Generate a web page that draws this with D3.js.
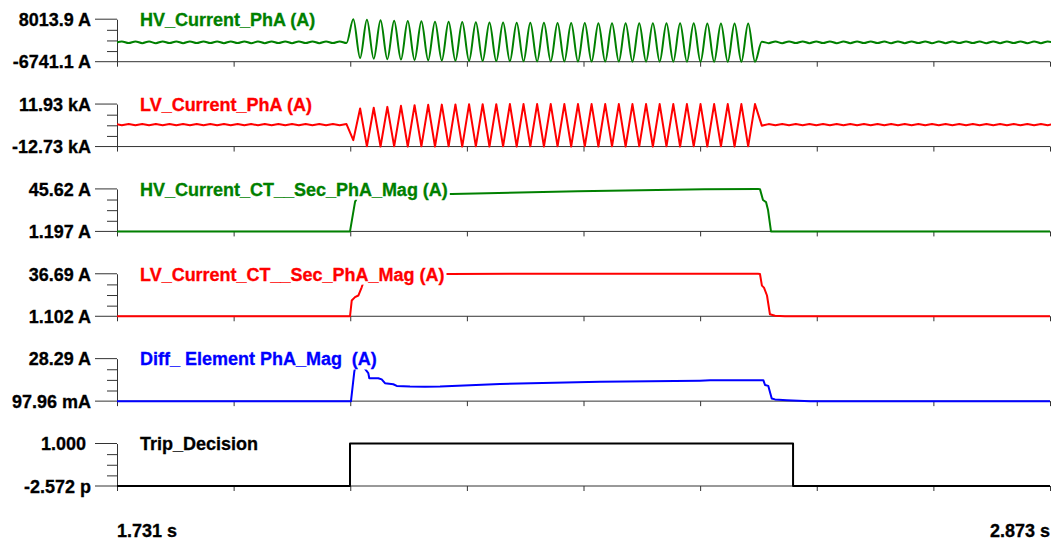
<!DOCTYPE html>
<html>
<head>
<meta charset="utf-8">
<script src="https://cdn.jsdelivr.net/npm/d3@7"></script>
<style>
  body { margin: 0; background: #fff; }
  svg text { font-family: "Liberation Sans", Arial, sans-serif; font-weight: bold; white-space: pre; }
</style>
</head>
<body>
<svg id="chart" width="1057" height="542"></svg>
<script>
// time window (s)
const timeStart = 1.731, timeEnd = 2.873;
const timeLabels = ["1.731 s", "2.873 s"];

// AC channels are sampled once per half cycle (60 Hz), starting at acT0
const acT0 = 1.72857, acStep = 1 / 120;

// HV_Current_PhA (A)
const hvPre = [-290, 300, -280, 310, -300, 290, -310, 300, -290, 280,
  -300, 310, -290, 300, -280, 290, -300, 310, -290, 300,
  -310, 280, -300, 290, -290, 310, -300, 300, -280, 290,
  -300, 310, -290, 300, -250];
const hvFault = [8013.9, -5470, 7800, -5700, 7620, -5880, 7480, -6020, 7360, -6140,
  7260, -6240, 7170, -6320, 7090, -6390, 7020, -6450, 6960, -6500,
  6900, -6540, 6850, -6580, 6810, -6610, 6770, -6630, 6740, -6650,
  6710, -6670, 6690, -6680, 6670, -6690, 6650, -6700, 6630, -6710,
  6620, -6715, 6610, -6720, 6600, -6725, 6590, -6730, 6580, -6735,
  6570, -6738, 6560, -6740, 6560, -6741.1, 6550, -6741, 6550, -6741];
const hvPost = [220, -300, 290, -310, 300, -290, 310, -300, 280, -290,
  300, -310, 290, -300, 310, -280, 300, -290, 290, -310,
  300, -300, 280, -290, 300, -310, 290, -300, 310, -280,
  300, -290, 290, -310, 300, -300, 280, -290, 300, -310,
  290, -300, 310, -280];

// LV_Current_PhA (kA)
const lvPre = [0.4, -0.4, 0.35, -0.4, 0.4, -0.35, 0.4, -0.4, 0.35, -0.4,
  0.4, -0.35, 0.4, -0.4, 0.35, -0.4, 0.4, -0.35, 0.4, -0.4,
  0.35, -0.4, 0.4, -0.35, 0.4, -0.4, 0.35, -0.4, 0.4, -0.35,
  0.4, -0.4, 0.35, -0.4, 0.3];
const lvFault = [-9.0, 9.4, -12.6, 9.8, -12.7, 10.3, -12.6, 10.9, -12.7, 11.3,
  -12.6, 11.5, -12.7, 11.6, -12.6, 11.7, -12.73, 11.8, -12.6, 11.8,
  -12.7, 11.85, -12.6, 11.9, -12.7, 11.9, -12.6, 11.93, -12.7, 11.9,
  -12.6, 11.9, -12.7, 11.9, -12.6, 11.9, -12.7, 11.9, -12.6, 11.9,
  -12.7, 11.9, -12.6, 11.9, -12.7, 11.9, -12.6, 11.9, -12.7, 11.9,
  -12.6, 11.9, -12.7, 11.9, -12.6, 11.9, -12.7, 11.9, -12.6, 11.9];
const lvPost = [-0.6, 0.3, -0.4, 0.35, -0.4, 0.4, -0.35, 0.4, -0.4, 0.35,
  -0.4, 0.4, -0.35, 0.4, -0.4, 0.35, -0.4, 0.4, -0.35, 0.4,
  -0.4, 0.35, -0.4, 0.4, -0.35, 0.4, -0.4, 0.35, -0.4, 0.4,
  -0.35, 0.4, -0.4, 0.35, -0.4, 0.4, -0.35, 0.4, -0.4, 0.35,
  -0.4, 0.4, -0.35, 0.4];

// HV_Current_CT__Sec_PhA_Mag (A)
const hvCtTime = [1.731, 2.0162, 2.0223, 2.0260, 2.0330, 2.1410, 2.2950, 2.4500,
  2.5156, 2.5180, 2.5217, 2.5254, 2.5278, 2.5315, 2.873];
const hvCtMag = [1.197, 1.197, 31.9, 38.5, 40.0, 40.3, 43.2, 45.4,
  45.62, 45.4, 34.0, 31.9, 23.9, 1.197, 1.197];

// LV_Current_CT__Sec_PhA_Mag (A)
const lvCtTime = [1.731, 2.0162, 2.0183, 2.0223, 2.0264, 2.0305, 2.0360, 2.1386,
  2.5156, 2.5180, 2.5204, 2.5229, 2.5266, 2.5302, 2.5364, 2.5486, 2.873];
const lvCtMag = [1.102, 1.102, 14.3, 17.1, 18.5, 25.4, 36.2, 36.6,
  36.69, 36.5, 26.8, 25.1, 18.5, 2.8, 1.5, 1.102, 1.102];

// Diff_ Element PhA_Mag (A)
const diffTime = [1.731, 2.0162, 2.0174, 2.0215, 2.0248, 2.0300, 2.0360, 2.0386,
  2.0398, 2.0508, 2.0550, 2.0590, 2.0692, 2.0734, 2.0896, 2.1080, 2.1264,
  2.1998, 2.3222, 2.4446, 2.4569, 2.5221, 2.5242, 2.5282, 2.5324, 2.5364,
  2.5507, 2.5793, 2.873];
const diffMag = [0.09796, 0.09796, 0.09796, 19.8, 28.29, 25.0, 20.5, 18.7,
  15.3, 15.3, 14.5, 12.0, 11.3, 10.2, 9.8, 9.6, 9.8,
  11.5, 12.9, 13.7, 13.9, 14.0, 10.8, 10.2, 1.9, 1.24,
  0.77, 0.09796, 0.09796];

// Trip_Decision
const tripTime = [1.731, 2.0162, 2.5585, 2.873];
const tripValue = [0, 1, 0, 0];

// panel titles, colours and axis labels
const titles = ["HV_Current_PhA (A)", "LV_Current_PhA (A)", "HV_Current_CT__Sec_PhA_Mag (A)",
  "LV_Current_CT__Sec_PhA_Mag (A)", "Diff_ Element PhA_Mag  (A)", "Trip_Decision"];
const colors = ["#008000", "#ff0000", "#008000", "#ff0000", "#0000ff", "#000000"];
const topLabels = ["8013.9 A", "11.93 kA", "45.62 A", "36.69 A", "28.29 A", "1.000\u00a0"];
const bottomLabels = ["-6741.1 A", "-12.73 kA", "1.197 A", "1.102 A", "97.96 mA", "-2.572 p"];
const domains = [[-6741.1, 8013.9], [-12.73, 11.93], [1.197, 45.62], [1.102, 36.69],
  [0.09796, 28.29], [-2.572e-12, 1]];

function acSeries(values) {
  return values.map((v, i) => [acT0 + i * acStep, v]);
}
function zipSeries(t, v) {
  return t.map((d, i) => [d, v[i]]);
}

const series = [
  {data: acSeries(hvPre.concat(hvFault, hvPost)), curve: d3.curveMonotoneX},
  {data: acSeries(lvPre.concat(lvFault, lvPost)), curve: d3.curveLinear},
  {data: zipSeries(hvCtTime, hvCtMag), curve: d3.curveLinear},
  {data: zipSeries(lvCtTime, lvCtMag), curve: d3.curveLinear},
  {data: zipSeries(diffTime, diffMag), curve: d3.curveLinear},
  {data: zipSeries(tripTime, tripValue), curve: d3.curveStepAfter}
];

const plotLeft = 117, plotRight = 1050, labelRight = 91, tickLeft = 95;
const firstBottom = 61.7, panelStep = 84.86, panelHeight = 42.5;
const axisColor = "#333";
const fontSize = 18, stretchY = 1.07;

const svg = d3.select("#chart");
const x = d3.scaleLinear().domain([timeStart, timeEnd]).range([plotLeft, plotRight]);
const timeTicks = d3.range(9).map(i => timeStart + i * (timeEnd - timeStart) / 8);

svg.append("clipPath").attr("id", "plot-clip")
  .append("rect").attr("x", plotLeft).attr("y", 0)
  .attr("width", plotRight - plotLeft + 1).attr("height", 542);

// text drawn slightly taller than the font, like the original plot
function addText(parent, px, py, str, color, anchor, dy) {
  const g = parent.append("g").attr("transform", `translate(${px},${py}) scale(1,${stretchY})`);
  const t = g.append("text")
    .attr("dy", dy)
    .attr("text-anchor", anchor)
    .attr("font-size", fontSize)
    .attr("fill", color)
    .attr("stroke", color).attr("stroke-width", 0.3)
    .text(str);
  return {g, t};
}

titles.forEach((title, i) => {
  const bottom = firstBottom + i * panelStep;
  const top = bottom - panelHeight;
  const y = d3.scaleLinear().domain(domains[i]).range([bottom, top]);
  const g = svg.append("g").attr("class", "panel");
  const [lo, hi] = domains[i];

  // bottom (time) axis of this panel
  g.append("line")
    .attr("x1", tickLeft).attr("x2", plotRight)
    .attr("y1", bottom).attr("y2", bottom)
    .attr("stroke", axisColor).attr("stroke-width", 1);
  const xAxis = g.append("g")
    .attr("transform", `translate(0,${bottom})`)
    .call(d3.axisBottom(x).tickValues(timeTicks).tickSize(5).tickFormat(""));
  xAxis.select(".domain").remove();
  xAxis.selectAll("line").attr("stroke", axisColor);

  // value axis: long top tick, three short minor ticks
  const minor = [1, 2, 3].map(k => lo + (hi - lo) * k / 4);
  const yAxis = g.append("g")
    .attr("transform", `translate(${plotLeft},0)`)
    .call(d3.axisLeft(y).tickValues(minor).tickSize(10).tickSizeOuter(0).tickFormat(""));
  yAxis.select(".domain").attr("stroke", axisColor);
  yAxis.selectAll("line").attr("stroke", axisColor);
  g.append("line")
    .attr("x1", tickLeft).attr("x2", plotLeft)
    .attr("y1", y(hi)).attr("y2", y(hi))
    .attr("stroke", axisColor);

  addText(g, labelRight, y(hi), topLabels[i], "#000", "end", "0.35em");
  addText(g, labelRight, y(lo), bottomLabels[i], "#000", "end", "0.35em");

  // the signal
  const line = d3.line()
    .x(d => x(d[0]))
    .y(d => y(d[1]))
    .curve(series[i].curve);
  g.append("path")
    .datum(series[i].data)
    .attr("clip-path", "url(#plot-clip)")
    .attr("d", line)
    .attr("fill", "none")
    .attr("stroke", colors[i])
    .attr("stroke-width", 2)
    .attr("stroke-linejoin", "round");

  // title sits on a white box over the trace
  const lab = addText(g, 140, y(hi), title, colors[i], "start", "0.35em");
  const bb = lab.t.node().getBBox();
  lab.g.insert("rect", "text")
    .attr("fill", "#fff")
    .attr("x", bb.x - 2).attr("y", bb.y)
    .attr("width", bb.width + 4).attr("height", bb.height);
});

addText(svg, plotLeft, 537, timeLabels[0], "#000", "start", 0);
addText(svg, plotRight, 537, timeLabels[1], "#000", "end", 0);
</script>
</body>
</html>
